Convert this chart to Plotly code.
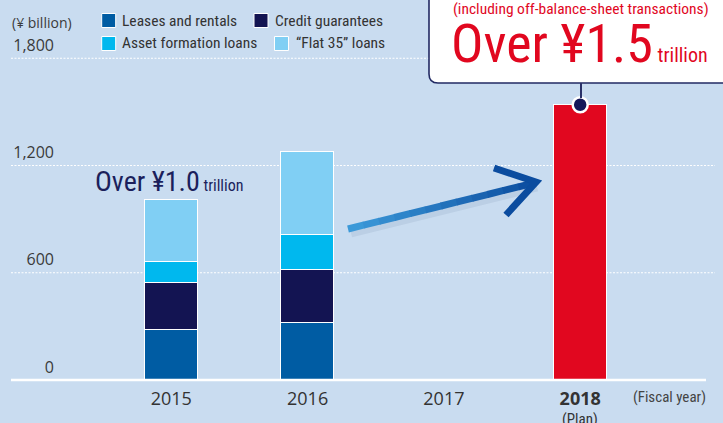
import plotly.graph_objects as go

# ---------------- data ----------------
years = ["2015", "2016", "2017", "2018"]
year_labels = ["2015", "2016", "2017", "<b>2018</b>"]
leases = [281, 317, None, None]
credit = [260, 300, None, None]
asset = [118, 192, None, None]
flat35 = [347, 464, None, None]
plan_total = [None, None, None, 1540]

series_names = ["Leases and rentals", "Credit guarantees", "Asset formation loans", "\u201cFlat 35\u201d loans"]
series_colors = ["#005CA3", "#131452", "#00B8EE", "#80CFF4"]
plan_color = "#E1071F"

y_ticks = [0, 600, 1200, 1800]
y_ticktext = ["0", "600", "1,200", "1,800"]
y_max = 2126

# ---------------- layout geometry (pixels) ----------------
W, H = 723, 423
L, R, T, B = 55, 706, 0, 380

def px(x):
    return (x - L) / (R - L)

def py(y):
    return (B - y) / (B - T)

BG = "#C9DCF0"
NARROW = "Roboto Condensed, Roboto, sans-serif"
NUMF = "Open Sans, Liberation Sans, sans-serif"
NAVY = "#1B1F5C"

fig = go.Figure()
for vals, name, color in zip([leases, credit, asset, flat35], series_names, series_colors):
    fig.add_trace(go.Bar(x=years, y=vals, name=name, marker=dict(color=color, line=dict(color="white", width=1)),
                         width=0.39, showlegend=False, hoverinfo="skip"))
fig.add_trace(go.Bar(x=years, y=plan_total, name="Plan", marker=dict(color=plan_color, line=dict(color="white", width=1)),
                     width=0.39, showlegend=False, hoverinfo="skip"))
# marker dot on top of the plan bar
fig.add_trace(go.Scatter(x=[years[3]], y=[plan_total[3]], mode="markers",
                         marker=dict(size=15, color="#14175A", line=dict(color="white", width=2.5)),
                         showlegend=False, hoverinfo="skip", cliponaxis=False))

shapes = []
# dotted gridlines
for v in y_ticks[1:]:
    shapes.append(dict(type="line", xref="paper", yref="y", x0=px(11), x1=px(715), y0=v, y1=v,
                       line=dict(color="white", width=1.2, dash="2px,1.5px"), layer="below"))
# axis base line
shapes.append(dict(type="line", xref="paper", yref="paper", x0=px(11), x1=px(706), y0=0, y1=0,
                   line=dict(color="white", width=2.5), layer="above"))

# arrow (gradient shaft)
x_start, y_start, x_end, y_end = 348, 229, 534, 183
shapes.append(dict(type="line", xref="paper", yref="paper", x0=px(x_start + 3), y0=py(y_start + 4),
                   x1=px(x_end + 3), y1=py(y_end + 4), line=dict(color="rgba(20,40,90,0.07)", width=9)))
c0 = (0x3D, 0x9C, 0xDB)
c1 = (0x0B, 0x4C, 0x9F)
nseg = 12
for i in range(nseg):
    f0, f1 = i / nseg, min((i + 1.05) / nseg, 1)
    fm = (i + 0.5) / nseg
    col = "rgb(%d,%d,%d)" % tuple(round(a + (b - a) * fm) for a, b in zip(c0, c1))
    shapes.append(dict(type="line", xref="paper", yref="paper",
                       x0=px(x_start + (x_end - x_start) * f0), y0=py(y_start + (y_end - y_start) * f0),
                       x1=px(x_start + (x_end - x_start) * f1), y1=py(y_start + (y_end - y_start) * f1),
                       line=dict(color=col, width=7)))
head = "M %f,%f L %f,%f L %f,%f" % (px(494), py(168), px(536), py(182), px(506), py(215))
shapes.append(dict(type="path", xref="paper", yref="paper", path=head, line=dict(color="#0B4C9F", width=7)))

# callout box (rounded bottom-left corner)
box = "M %f,%f L %f,%f Q %f,%f %f,%f L %f,%f L %f,%f Z" % (
    px(429), py(-20), px(429), py(74), px(429), py(83), px(438), py(83), px(760), py(83), px(760), py(-20))
shapes.append(dict(type="path", xref="paper", yref="paper", path=box, fillcolor="white",
                   line=dict(color="#222A63", width=1.6)))
# connector
shapes.append(dict(type="line", xref="paper", yref="paper", x0=px(581), x1=px(581), y0=py(83), y1=py(98),
                   line=dict(color="#2A3168", width=2)))

# legend squares
legend_pos = [(101.7, 20.5), (254, 20.5), (101.7, 43.5), (274.5, 43.5)]
legend_text_x = [121.5, 274.5, 121.5, 296]
for (sx, sy), color in zip(legend_pos, series_colors):
    shapes.append(dict(type="rect", xref="paper", yref="paper", x0=px(sx), x1=px(sx + 14), y0=py(sy - 7), y1=py(sy + 7),
                       fillcolor=color, line=dict(color="white", width=1)))

annotations = []
for (sx, sy), tx, name in zip(legend_pos, legend_text_x, series_names):
    annotations.append(dict(x=px(tx), y=py(sy), xref="paper", yref="paper", text=name, showarrow=False,
                            xanchor="left", yanchor="middle", borderpad=0, borderwidth=0,
                            font=dict(family=NARROW, size=15.5, color="#333333")))
annotations.append(dict(x=px(12), y=py(22.7), xref="paper", yref="paper", text="(\u00a5 billion)", showarrow=False,
                        xanchor="left", yanchor="middle", borderpad=0, borderwidth=0,
                        font=dict(family=NUMF, size=14, color="#3a3a3a")))
annotations.append(dict(x=px(669.5), y=py(396.7), xref="paper", yref="paper", text="(Fiscal year)", showarrow=False,
                        xanchor="center", yanchor="middle", borderpad=0, borderwidth=0,
                        font=dict(family=NARROW, size=15, color="#444444")))
annotations.append(dict(x=px(580.3), y=py(419), xref="paper", yref="paper", text="(Plan)", showarrow=False,
                        xanchor="center", yanchor="middle", borderpad=0, borderwidth=0,
                        font=dict(family=NARROW, size=15, color="#333333")))
annotations.append(dict(x=px(95), y=py(181.7), xref="paper", yref="paper",
                        text="Over \u00a51.0<span style='font-size:16px'> trillion</span>", showarrow=False,
                        xanchor="left", yanchor="middle", borderpad=0, borderwidth=0,
                        font=dict(family=NARROW, size=28, color=NAVY)))
annotations.append(dict(x=px(580.5), y=py(8.5), xref="paper", yref="paper",
                        text="(including off-balance-sheet transactions)", showarrow=False,
                        xanchor="center", yanchor="middle", borderpad=0, borderwidth=0,
                        font=dict(family=NARROW, size=15.5, color=plan_color)))
annotations.append(dict(x=px(451), y=py(43.5), xref="paper", yref="paper",
                        text="Over \u00a51.5<span style='font-size:20px'> trillion</span>", showarrow=False,
                        xanchor="left", yanchor="middle", borderpad=0, borderwidth=0,
                        font=dict(family=NARROW, size=54, color=plan_color)))

fig.update_layout(
    width=W, height=H,
    margin=dict(l=L, r=W - R, t=T, b=H - B, pad=0),
    paper_bgcolor=BG, plot_bgcolor=BG,
    barmode="stack", bargap=0,
    shapes=shapes, annotations=annotations,
    xaxis=dict(type="category", categoryorder="array", categoryarray=years,
               range=[-0.853, 3.923], tickvals=years, ticktext=year_labels,
               showgrid=False, zeroline=False, showline=False, ticks="",
               ticklabelstandoff=6,
               tickfont=dict(family=NUMF, size=18, color="#333333"), fixedrange=True),
    yaxis=dict(range=[0, y_max], tickvals=y_ticks, ticktext=y_ticktext,
               showgrid=False, zeroline=False, showline=False, ticks="",
               ticklabelshift=-13, tickfont=dict(family=NUMF, size=16, color="#3a3a3a"), fixedrange=True),
    showlegend=False,
)

fig.write_html("out.html", config={"displayModeBar": False},
               post_script="document.body.style.margin='0px';")
